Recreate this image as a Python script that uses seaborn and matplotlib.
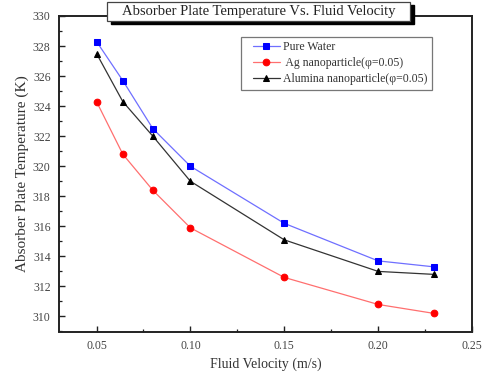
import matplotlib
matplotlib.use("Agg")
import matplotlib.pyplot as plt
from matplotlib.patches import Rectangle
from matplotlib.lines import Line2D
from matplotlib.legend_handler import HandlerLine2D
from matplotlib.ticker import MultipleLocator, FormatStrFormatter
import seaborn as sns
import pandas as pd

# Fluid velocity (m/s) and absorber plate temperature (K) for each working fluid
velocity = [0.05, 0.064, 0.08, 0.10, 0.15, 0.20, 0.23]
pure_water = [328.3, 325.7, 322.5, 320.0, 316.2, 313.7, 313.3]
ag_nano = [324.3, 320.8, 318.4, 315.9, 312.6, 310.8, 310.2]
alumina_nano = [327.5, 324.3, 322.0, 319.0, 315.1, 313.0, 312.8]

series_names = ["Pure Water", " Ag nanoparticle(\u03c6=0.05)", "Alumina nanoparticle(\u03c6=0.05)"]
series_values = [pure_water, ag_nano, alumina_nano]
colors = ["#0000ff", "#ff0000", "#000000"]
line_colors = ["#6f6fff", "#ff6f6f", "#333333"]
markers = ["s", "o", "^"]

sns.set_theme(style="white")
plt.rcParams["font.family"] = ["Liberation Serif", "DejaVu Serif"]

fig = plt.figure(figsize=(4.96, 3.81), dpi=100)
ax = fig.add_axes([59 / 496, 1 - 331.5 / 381, 413 / 496, 315.5 / 381])

for name, vals, c, lc, m in zip(series_names, series_values, colors, line_colors, markers):
    df = pd.DataFrame({"v": velocity, "T": vals})
    sns.lineplot(data=df, x="v", y="T", ax=ax, color=lc, linewidth=0.9,
                 marker=m, markersize=4.8, markerfacecolor=c, markeredgecolor=c,
                 label=name)

ax.set_xlim(0.03, 0.25)
ax.set_ylim(309, 330)
ax.xaxis.set_major_locator(MultipleLocator(0.05))
ax.xaxis.set_minor_locator(MultipleLocator(0.025))
ax.yaxis.set_major_locator(MultipleLocator(2))
ax.yaxis.set_minor_locator(MultipleLocator(1))
ax.xaxis.set_major_formatter(FormatStrFormatter("%.2f"))
ax.tick_params(which="major", direction="in", length=4, width=1, color="#222222",
               labelsize=8.5, labelcolor="#444444", pad=6)
ax.tick_params(which="minor", direction="in", length=2.5, width=0.9, color="#222222")
ax.tick_params(axis="x", which="both", bottom=True, top=False)
ax.tick_params(axis="y", which="both", left=True, right=False)

for s in ax.spines.values():
    s.set_color("#222222")
    s.set_linewidth(1.4)

ax.set_xlabel("Fluid Velocity (m/s)", fontsize=10, color="#333333", labelpad=4)
ax.set_ylabel("Absorber Plate Temperature (K)", fontsize=11, color="#333333", labelpad=3)

leg = ax.legend(loc="upper left", bbox_to_anchor=(0.44, 0.935), borderaxespad=0,
                fontsize=8.5, frameon=True, fancybox=False, handlelength=2.9,
                labelspacing=0.35, borderpad=0.4, handletextpad=0.25,
                handler_map={Line2D: HandlerLine2D(xpad=0.6)})
leg.get_frame().set_edgecolor("#555555")
leg.get_frame().set_linewidth(0.9)
for t in leg.get_texts():
    t.set_color("#333333")

# Boxed title with a drop shadow, sitting over the top spine
W, H = 496, 381
x0, x1, y0, y1 = 107, 410, 2, 21
fig.patches.append(Rectangle(((x0 + 4) / W, 1 - (y1 + 3) / H), (x1 - x0) / W, (y1 - y0) / H,
                             transform=fig.transFigure, facecolor="black", edgecolor="black",
                             zorder=5))
fig.patches.append(Rectangle((x0 / W, 1 - y1 / H), (x1 - x0) / W, (y1 - y0) / H,
                             transform=fig.transFigure, facecolor="white", edgecolor="#444444",
                             linewidth=0.9, zorder=6))
fig.text((x0 + x1) / 2 / W, 1 - (y0 + y1) / 2 / H, "Absorber Plate Temperature Vs. Fluid Velocity",
         ha="center", va="center", fontsize=10.5, color="#222222", zorder=7)

fig.savefig("out.png", dpi=100)
